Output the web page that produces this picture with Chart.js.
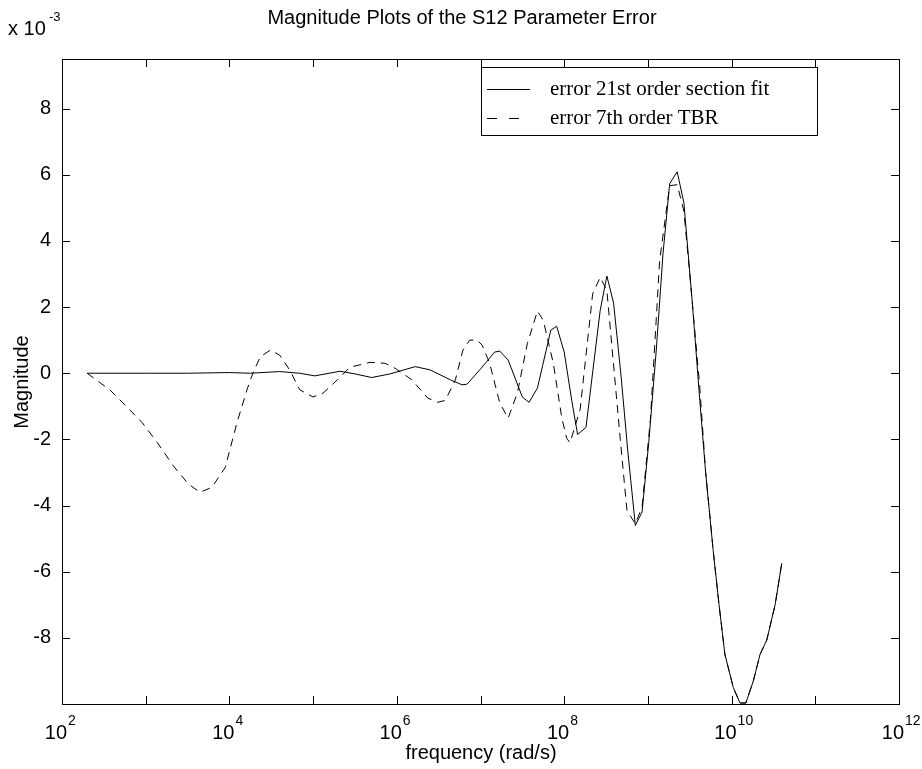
<!DOCTYPE html>
<html>
<head>
<meta charset="utf-8">
<script src="https://cdn.jsdelivr.net/npm/chart.js@4.4.0/dist/chart.umd.min.js"></script>
<style>
  html, body { margin: 0; padding: 0; background: #fff; }
  #wrap { width: 922px; height: 769px; }
</style>
</head>
<body>
<div id="wrap"><canvas id="chart" width="922" height="769"></canvas></div>
<script>
// frequency points as log10 exponents (rad/s), values in units of 1e-3

// error 21st order section fit
const fitExp = [2.30, 3.00, 3.50, 4.00, 4.25, 4.60, 4.84, 5.02, 5.32, 5.50, 5.70, 5.92, 6.22, 6.40,
  6.64, 6.78, 6.84, 6.99, 7.17, 7.23, 7.33, 7.50, 7.58, 7.68, 7.84, 7.91, 8.00, 8.09, 8.16, 8.26,
  8.43, 8.51, 8.59, 8.68, 8.76, 8.85, 8.93, 9.01, 9.10, 9.18, 9.26, 9.35, 9.43, 9.53, 9.62, 9.69,
  9.78, 9.85, 9.92, 10.02, 10.10, 10.17, 10.26, 10.34, 10.42, 10.52, 10.60];
const fitVals = [0, 0, 0, 0.02, 0, 0.05, 0, -0.08, 0.06, -0.02, -0.13, -0.02, 0.2, 0.1,
  -0.2, -0.35, -0.33, 0.1, 0.64, 0.67, 0.4, -0.72, -0.88, -0.45, 1.3, 1.42, 0.64, -0.82, -1.85, -1.64,
  1.9, 2.94, 2.12, -0.1, -2.36, -4.6, -4.2, -2.1, 0.7, 3.6, 5.73, 6.09, 5.15, 2.15, -0.82, -3.0,
  -5.36, -7.0, -8.5, -9.5, -9.97, -9.97, -9.3, -8.5, -8.07, -7.0, -5.74];

// error 7th order TBR
const tbrExp = [2.30, 2.57, 2.78, 2.96, 3.14, 3.33, 3.51, 3.65, 3.79, 3.95, 4.09, 4.21, 4.28, 4.37,
  4.49, 4.60, 4.72, 4.84, 5.00, 5.12, 5.29, 5.44, 5.68, 5.86, 5.98, 6.18, 6.37, 6.49, 6.58, 6.70,
  6.79, 6.87, 6.96, 7.02, 7.11, 7.23, 7.33, 7.44, 7.56, 7.68, 7.75, 7.87, 7.97, 8.03, 8.07, 8.19,
  8.34, 8.43, 8.51, 8.67, 8.75, 8.85, 8.93, 9.03, 9.14, 9.26, 9.35, 9.43, 9.50, 9.62, 9.69, 9.78,
  9.85, 9.92, 10.02, 10.10, 10.17, 10.26, 10.34, 10.42, 10.52, 10.60];
const tbrVals = [0, -0.5, -1.03, -1.5, -2.1, -2.8, -3.35, -3.6, -3.45, -2.85, -1.5, -0.5, 0, 0.5,
  0.7, 0.55, 0.1, -0.5, -0.72, -0.6, -0.2, 0.18, 0.33, 0.3, 0.15, -0.2, -0.75, -0.88, -0.82, -0.2,
  0.7, 1.0, 1.0, 0.85, 0.3, -0.9, -1.36, -0.6, 0.9, 1.88, 1.6, 0.3, -1.33, -1.97, -2.1, -1.1,
  2.4, 2.9, 2.5, -2.0, -4.15, -4.55, -4.05, -1.4, 3.4, 5.67, 5.7, 4.9, 3.0, -0.42, -3.0, -5.36,
  -7.0, -8.5, -9.5, -9.97, -9.97, -9.3, -8.5, -8.07, -7.0, -5.74];

const xTickExps = [2, 3, 4, 5, 6, 7, 8, 9, 10, 11, 12];
const xLabelExps = [2, 4, 6, 8, 10, 12];
const yTicks = [-8, -6, -4, -2, 0, 2, 4, 6, 8];

const SANS = '"Liberation Sans", Arial, sans-serif';
const SERIF = '"Liberation Serif", "Times New Roman", serif';

function toPoints(exps, vals) {
    return exps.map((e, i) => ({ x: Math.pow(10, e), y: vals[i] }));
}

// box, inward ticks and all the text, matlab style
const framePlugin = {
    id: 'frame',
    afterDraw(chart) {
        const ctx = chart.ctx;
        const a = chart.chartArea;
        const xs = chart.scales.x;
        const ys = chart.scales.y;
        ctx.save();
        ctx.strokeStyle = '#000';
        ctx.fillStyle = '#000';
        ctx.lineWidth = 1;

        const line = (x1, y1, x2, y2) => {
            ctx.beginPath();
            ctx.moveTo(x1, y1);
            ctx.lineTo(x2, y2);
            ctx.stroke();
        };

        ctx.strokeRect(a.left + 0.5, a.top + 0.5, a.right - a.left, a.bottom - a.top);

        xTickExps.forEach(e => {
            const px = Math.round(xs.getPixelForValue(Math.pow(10, e))) + 0.5;
            line(px, a.bottom, px, a.bottom - 8);
            line(px, a.top, px, a.top + 8);
        });
        yTicks.forEach(v => {
            const py = Math.round(ys.getPixelForValue(v)) + 0.5;
            line(a.left, py, a.left + 8, py);
            line(a.right, py, a.right - 8, py);
        });

        // y tick labels
        ctx.font = '20px ' + SANS;
        ctx.textAlign = 'right';
        ctx.textBaseline = 'middle';
        yTicks.forEach(v => {
            ctx.fillText(String(v), a.left - 11, ys.getPixelForValue(v));
        });

        // x tick labels 10^n
        xLabelExps.forEach(e => {
            const px = xs.getPixelForValue(Math.pow(10, e));
            ctx.font = '20px ' + SANS;
            ctx.textAlign = 'right';
            ctx.textBaseline = 'alphabetic';
            ctx.fillText('10', px + 5, a.bottom + 35);
            ctx.font = '14px ' + SANS;
            ctx.textAlign = 'left';
            ctx.fillText(String(e), px + 6, a.bottom + 21);
        });

        // exponent note
        ctx.textAlign = 'left';
        ctx.font = '20px ' + SANS;
        ctx.fillText('x 10', 8, 35);
        ctx.font = '13px ' + SANS;
        ctx.fillText('-3', 49, 21);

        // title
        ctx.font = '20px ' + SANS;
        ctx.textAlign = 'center';
        ctx.fillText('Magnitude Plots of the S12 Parameter Error', 462, 24);

        // axis titles
        ctx.fillText('frequency (rad/s)', 481, 759);
        ctx.save();
        ctx.translate(28, 382);
        ctx.rotate(-Math.PI / 2);
        ctx.fillText('Magnitude', 0, 0);
        ctx.restore();

        // legend
        const lx = 481, ly = 67, lw = 336, lh = 68;
        ctx.fillStyle = '#fff';
        ctx.fillRect(lx, ly, lw, lh);
        ctx.strokeRect(lx + 0.5, ly + 0.5, lw, lh);
        ctx.fillStyle = '#000';
        line(487, 89.5, 530, 89.5);
        ctx.setLineDash([10, 12]);
        line(487, 118.5, 530, 118.5);
        ctx.setLineDash([]);
        ctx.font = '21px ' + SERIF;
        ctx.textAlign = 'left';
        ctx.textBaseline = 'middle';
        ctx.fillText('error 21st order section fit', 550, 89);
        ctx.fillText('error 7th order TBR', 550, 118);

        ctx.restore();
    }
};

const ctx = document.getElementById('chart');
new Chart(ctx, {
    type: 'line',
    data: {
        datasets: [{
            label: 'error 21st order section fit',
            data: toPoints(fitExp, fitVals),
            borderColor: '#000',
            borderWidth: 1,
            pointRadius: 0,
            tension: 0,
            fill: false
        }, {
            label: 'error 7th order TBR',
            data: toPoints(tbrExp, tbrVals),
            borderColor: '#000',
            borderWidth: 1,
            borderDash: [8, 6],
            pointRadius: 0,
            tension: 0,
            fill: false
        }]
    },
    options: {
        responsive: false,
        animation: false,
        layout: { padding: { left: 62, right: 23, top: 59, bottom: 65 } },
        plugins: { legend: { display: false }, tooltip: { enabled: false }, title: { display: false } },
        scales: {
            x: { type: 'logarithmic', min: 1e2, max: 1e12, display: false },
            y: { type: 'linear', min: -10, max: 9.5, display: false }
        }
    },
    plugins: [framePlugin]
});
</script>
</body>
</html>
